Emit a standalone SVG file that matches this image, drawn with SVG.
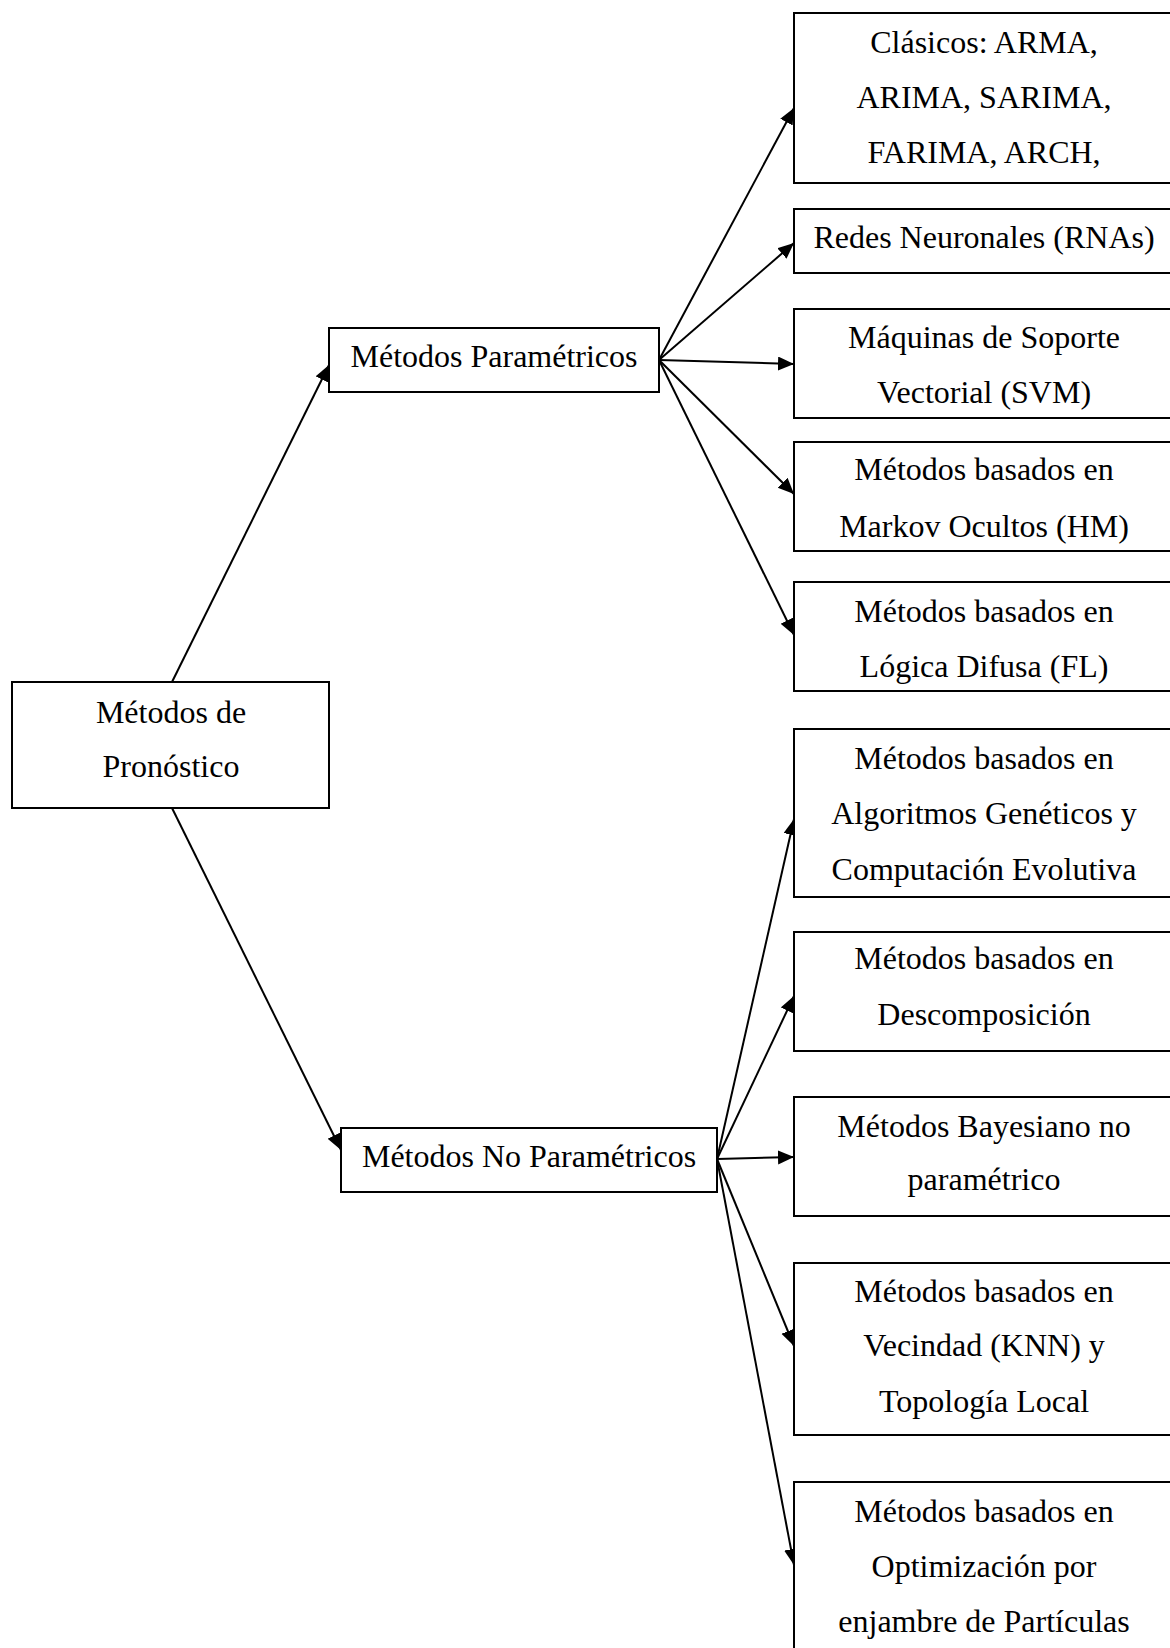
<svg xmlns="http://www.w3.org/2000/svg" width="1170" height="1648" viewBox="0 0 1170 1648">
<style>
.box{fill:#fff;stroke:#000;stroke-width:2}
.t{font-family:"Liberation Serif","Times New Roman",serif;font-size:32px;fill:#000;text-anchor:middle}
.c{stroke:#000;stroke-width:2;fill:none;marker-end:url(#ah)}
</style>
<defs>
<marker id="ah" markerUnits="userSpaceOnUse" markerWidth="17" markerHeight="15" refX="16" refY="7" orient="auto">
<path d="M0,0 L16,7 L0,14 Z" fill="#000"/>
</marker>
</defs>
<rect width="1170" height="1648" fill="#fff"/>
<g id="connectors">
<line class="c" x1="172" y1="682" x2="329" y2="365"/>
<line class="c" x1="172" y1="808" x2="341" y2="1150"/>
<line class="c" x1="659" y1="360" x2="794" y2="108"/>
<line class="c" x1="659" y1="360" x2="794" y2="243"/>
<line class="c" x1="659" y1="360" x2="794" y2="364"/>
<line class="c" x1="659" y1="360" x2="794" y2="494"/>
<line class="c" x1="659" y1="360" x2="794" y2="635"/>
<line class="c" x1="717" y1="1159" x2="794" y2="819"/>
<line class="c" x1="717" y1="1159" x2="794" y2="996"/>
<line class="c" x1="717" y1="1159" x2="794" y2="1157"/>
<line class="c" x1="717" y1="1159" x2="794" y2="1346"/>
<line class="c" x1="717" y1="1159" x2="794" y2="1565"/>
</g>
<g id="root">
<rect class="box" x="12" y="682" width="317" height="126"/>
<text class="t" x="171" y="723">Métodos de</text>
<text class="t" x="171" y="777">Pronóstico</text>
</g>
<g id="parametricos">
<rect class="box" x="329" y="328" width="330" height="64"/>
<text class="t" x="494" y="367">Métodos Paramétricos</text>
</g>
<g id="noparametricos">
<rect class="box" x="341" y="1128" width="376" height="64"/>
<text class="t" x="529" y="1167">Métodos No Paramétricos</text>
</g>
<g id="clasicos">
<rect class="box" x="794" y="13" width="390" height="170"/>
<text class="t" x="984" y="53">Clásicos: ARMA,</text>
<text class="t" x="984" y="108">ARIMA, SARIMA,</text>
<text class="t" x="984" y="163">FARIMA, ARCH,</text>
</g>
<g id="rna">
<rect class="box" x="794" y="209" width="390" height="64"/>
<text class="t" x="984" y="248">Redes Neuronales (RNAs)</text>
</g>
<g id="svm">
<rect class="box" x="794" y="309" width="390" height="109"/>
<text class="t" x="984" y="348">Máquinas de Soporte</text>
<text class="t" x="984" y="403">Vectorial (SVM)</text>
</g>
<g id="hm">
<rect class="box" x="794" y="442" width="390" height="109"/>
<text class="t" x="984" y="480">Métodos basados en</text>
<text class="t" x="984" y="537">Markov Ocultos (HM)</text>
</g>
<g id="fl">
<rect class="box" x="794" y="582" width="390" height="109"/>
<text class="t" x="984" y="622">Métodos basados en</text>
<text class="t" x="984" y="677">Lógica Difusa (FL)</text>
</g>
<g id="genetico">
<rect class="box" x="794" y="729" width="390" height="168"/>
<text class="t" x="984" y="769">Métodos basados en</text>
<text class="t" x="984" y="824">Algoritmos Genéticos y</text>
<text class="t" x="984" y="880">Computación Evolutiva</text>
</g>
<g id="descomposicion">
<rect class="box" x="794" y="932" width="390" height="119"/>
<text class="t" x="984" y="969">Métodos basados en</text>
<text class="t" x="984" y="1025">Descomposición</text>
</g>
<g id="bayesiano">
<rect class="box" x="794" y="1097" width="390" height="119"/>
<text class="t" x="984" y="1137">Métodos Bayesiano no</text>
<text class="t" x="984" y="1190">paramétrico</text>
</g>
<g id="knn">
<rect class="box" x="794" y="1263" width="390" height="172"/>
<text class="t" x="984" y="1302">Métodos basados en</text>
<text class="t" x="984" y="1356">Vecindad (KNN) y</text>
<text class="t" x="984" y="1412">Topología Local</text>
</g>
<g id="pso">
<rect class="box" x="794" y="1482" width="390" height="190"/>
<text class="t" x="984" y="1522">Métodos basados en</text>
<text class="t" x="984" y="1577">Optimización por</text>
<text class="t" x="984" y="1632">enjambre de Partículas</text>
</g>
</svg>
